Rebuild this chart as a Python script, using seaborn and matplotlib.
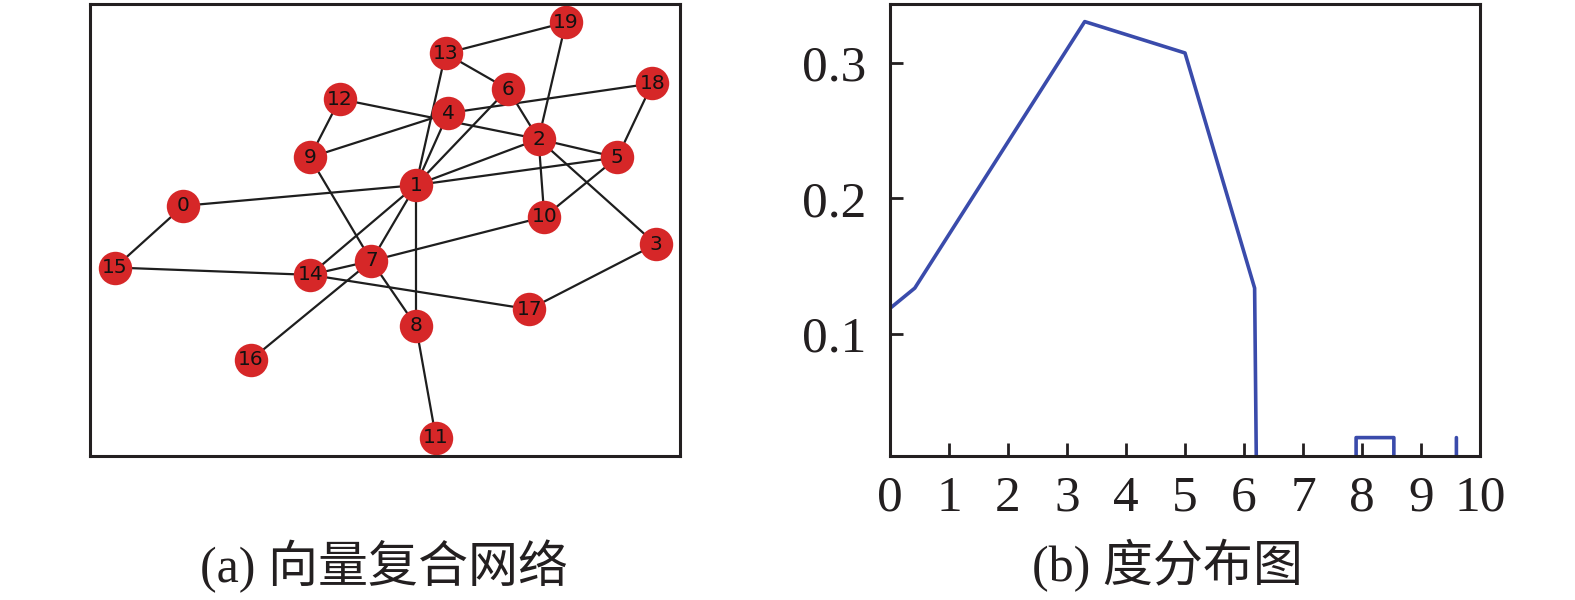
import numpy as np
import pandas as pd
import matplotlib
matplotlib.use("Agg")
import matplotlib.pyplot as plt
import seaborn as sns

# NETWORK DATA (node layout)

node_ids = list(range(20))
node_x = [248, 853, 1172, 1477, 937, 1377, 1092, 737, 853, 577,
          1187, 905, 655, 930, 578, 70, 423, 1148, 1468, 1243]
node_y = [615, 553, 415, 730, 337, 470, 265, 780, 975, 470,
          648, 1310, 295, 158, 822, 800, 1077, 925, 248, 65]

edge_src = [13, 13, 13, 19, 18, 18, 12, 4, 4, 6, 6, 2, 2, 2, 2, 5, 5,
            12, 9, 1, 1, 1, 1, 0, 15, 14, 14, 17, 10, 7, 7, 8]
edge_dst = [19, 6, 1, 2, 4, 5, 2, 9, 1, 1, 2, 1, 5, 10, 3, 1, 10,
            9, 7, 0, 14, 7, 8, 15, 14, 7, 17, 3, 7, 16, 8, 11]

# DEGREE DISTRIBUTION DATA

degree_x = [0, 0.42, 3.30, 5.0, 6.18, 6.21, 7.9, 7.9, 8.54, 8.54, 9.6, 9.6]
degree_p = [0.1187, 0.1337, 0.3307, 0.3075, 0.1337, 0.0, 0.0, 0.0232,
            0.0232, 0.0, 0.0, 0.0232]

x_ticks = list(range(11))
y_ticks = [0.1, 0.2, 0.3]

caption_a = "(a) 向量复合网络"
caption_b = "(b) 度分布图"

# STYLE

sns.set_style("white")
plt.rcParams['font.family'] = ['Liberation Serif', 'Noto Sans CJK SC', 'DejaVu Sans']

fig = plt.figure(figsize=(15.75, 6), dpi=100)

# PANEL (a) — NETWORK

ax1 = fig.add_axes([90 / 1575, 1 - 456 / 600, 590 / 1575, 452 / 600])
nodes = pd.DataFrame({'id': node_ids, 'x': node_x, 'y': node_y})

for s, d in zip(edge_src, edge_dst):
    ax1.plot([node_x[s], node_x[d]], [node_y[s], node_y[d]],
             color='#1e1e1e', linewidth=1.6, zorder=1)

sns.scatterplot(data=nodes, x='x', y='y', s=580, color='#d62728',
                linewidth=0, ax=ax1, zorder=2, legend=False)

for i, xx, yy in zip(node_ids, node_x, node_y):
    ax1.text(xx, yy, str(i), ha='center', va='center', fontsize=14.5,
             family='DejaVu Sans', color='#111111', zorder=3)

ax1.set_xlim(5, 1540)
ax1.set_ylim(1365, 10)
ax1.set_xticks([])
ax1.set_yticks([])
ax1.set_xlabel("")
ax1.set_ylabel("")
for sp in ax1.spines.values():
    sp.set_visible(True)
    sp.set_color('#231f20')
    sp.set_linewidth(2.2)

# PANEL (b) — DEGREE DISTRIBUTION

ax2 = fig.add_axes([890 / 1575, 1 - 456 / 600, 590 / 1575, 452 / 600])
deg = pd.DataFrame({'k': degree_x, 'p': degree_p})
sns.lineplot(data=deg, x='k', y='p', sort=False, estimator=None,
             color='#3a4bab', linewidth=2.6, ax=ax2)

ax2.set_xlim(0, 10)
ax2.set_ylim(0.0096, 0.3437)
ax2.set_xticks(x_ticks)
ax2.set_yticks(y_ticks)
ax2.set_xticklabels([str(t) for t in x_ticks])
ax2.set_yticklabels([str(t) for t in y_ticks])
ax2.set_xlabel("")
ax2.set_ylabel("")
ax2.tick_params(direction='in', length=9.5, width=2, color='#231f20',
                labelsize=37, labelcolor='#231f20', bottom=True, left=True)
ax2.tick_params(axis='x', pad=14)
ax2.tick_params(axis='y', pad=17)
for sp in ax2.spines.values():
    sp.set_visible(True)
    sp.set_color('#231f20')
    sp.set_linewidth(2.2)

# CAPTIONS

fig.text(384 / 1575, 1 - 566 / 600, caption_a, ha='center', va='center',
         fontsize=36, color='#231f20')
fig.text(1167 / 1575, 1 - 566 / 600, caption_b, ha='center', va='center',
         fontsize=36, color='#231f20')

fig.savefig("out.png", dpi=100)
